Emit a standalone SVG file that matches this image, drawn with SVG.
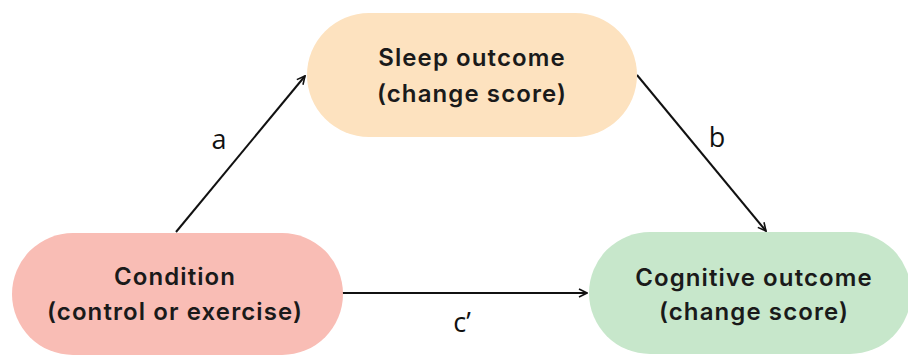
<svg xmlns="http://www.w3.org/2000/svg" width="908" height="356" viewBox="0 0 908 356">
<style>
.node-text{font-family:Inter,"Noto Sans","DejaVu Sans",sans-serif;font-weight:600;font-size:24px;letter-spacing:1.1px;fill:#1a1a1a;text-anchor:middle}
.lbl{font-family:"Open Sans","Liberation Sans",sans-serif;font-size:27px;fill:#111;text-anchor:middle}
.edge{stroke:#111;stroke-width:2;fill:none;marker-end:url(#ah)}
</style>
<defs>
<marker id="ah" viewBox="0 0 10 10" refX="9" refY="5" markerWidth="5" markerHeight="5" orient="auto" markerUnits="strokeWidth">
<path d="M1,1 L9,5 L1,9" fill="none" stroke="#111" stroke-width="1.6"/>
</marker>
</defs>
<rect width="908" height="356" fill="#ffffff"/>
<g id="connectors">
<line class="edge" x1="176" y1="232" x2="305" y2="76"/>
<line class="edge" x1="637" y1="75" x2="766" y2="231"/>
<line class="edge" x1="341" y1="293" x2="587" y2="293"/>
<text class="lbl" x="219" y="149">a</text>
<text class="lbl" x="717" y="147">b</text>
<text class="lbl" x="462" y="332">c’</text>
</g>
<g id="sleep">
<rect x="307" y="13" width="330" height="124" rx="62" fill="#fde2bf"/>
<text class="node-text" x="472" y="66">Sleep outcome</text>
<text class="node-text" x="472" y="102">(change score)</text>
</g>
<g id="condition">
<rect x="12" y="233" width="331" height="122" rx="61" fill="#f9bdb5"/>
<text class="node-text" x="175" y="285">Condition</text>
<text class="node-text" x="175" y="320">(control or exercise)</text>
</g>
<g id="cognitive">
<rect x="589" y="232" width="322" height="122" rx="61" fill="#c7e7cb"/>
<text class="node-text" x="754" y="286">Cognitive outcome</text>
<text class="node-text" x="754" y="320">(change score)</text>
</g>
</svg>
